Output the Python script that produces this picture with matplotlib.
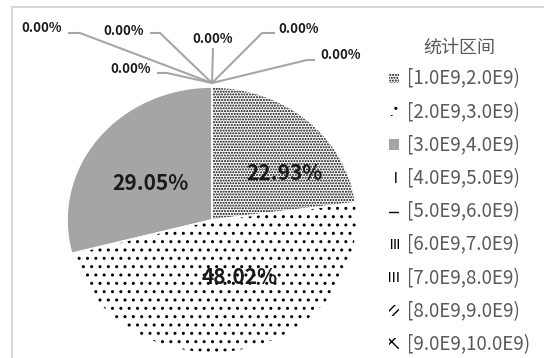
import numpy as np
import matplotlib.pyplot as plt
from matplotlib.patches import Rectangle

plt.rcParams['font.family'] = ['Noto Sans CJK SC', 'DejaVu Sans']
plt.rcParams['hatch.linewidth'] = 1.0

# data
bins = ['[1.0E9,2.0E9)', '[2.0E9,3.0E9)', '[3.0E9,4.0E9)', '[4.0E9,5.0E9)',
        '[5.0E9,6.0E9)', '[6.0E9,7.0E9)', '[7.0E9,8.0E9)', '[8.0E9,9.0E9)',
        '[9.0E9,10.0E9)']
share = [22.93, 48.02, 29.05, 0.0, 0.0, 0.0, 0.0, 0.0, 0.0]
legend_title = '统计区间'

# styles per slice
faces = ['white', 'white', '#a5a5a5', 'white', 'white', 'white', 'white', 'white', 'white']
hatches = ['......', '..', None, '||', '--', '|||||', '||||', '////', 'xx']

# layout (pixels)
W, H = 544, 358
CX, CY, RX, RY = 212, 220, 145, 133
big_pos = [(284, 174), (240, 278), (150, 184)]
zero_pos = [(42, 28), (124, 31), (213, 39), (299, 29), (341, 55), (131, 69)]
zero_leg = [((68, 33), (80, 33)), ((150, 33), (160, 33)), ((213, 48), (213, 48)),
            ((275, 33), (262, 33)), ((315, 60), (307, 60)), ((157, 73), (167, 73))]


def px(x, y):
    return (x - CX) / RX, (CY - y) / RY


fig = plt.figure(figsize=(W / 100, H / 100), dpi=100)
ax = fig.add_axes([0, 0, 1, 1])

wedges, _ = ax.pie(share, startangle=90, counterclock=False, radius=1)
for w, fc, h in zip(wedges, faces, hatches):
    w.set_facecolor(fc)
    w.set_edgecolor('black')
    w.set_linewidth(0)
    if h:
        w.set_hatch(h)
# white borders between slices
ax.pie(share, startangle=90, counterclock=False, radius=1,
       wedgeprops=dict(fill=False, edgecolor='white', linewidth=1.2))

ax.set_aspect('auto')
ax.set_xlim(-CX / RX, (W - CX) / RX)
ax.set_ylim(-(H - CY) / RY, CY / RY)
ax.axis('off')

# labels of the real slices
for v, p in zip(share[:3], big_pos):
    x, y = px(*p)
    ax.text(x, y, f'{v:.2f}%', ha='center', va='center', fontsize=15,
            fontweight='bold', color='#1a1a1a')

# zero slices: labels with leader lines from the top of the pie
zero_idx = [i for i, v in enumerate(share) if v == 0]
for i, p, (a, b) in zip(zero_idx, zero_pos, zero_leg):
    th = np.deg2rad(wedges[i].theta1)
    x0, y0 = 1.03 * np.cos(th), 1.03 * np.sin(th)
    xa, ya = px(*a)
    xb, yb = px(*b)
    ax.plot([xa, xb, x0], [ya, yb, y0], color='#a6a6a6', lw=1.5,
            solid_capstyle='butt')
    x, y = px(*p)
    ax.text(x, y, f'{share[i]:.2f}%', ha='center', va='center', fontsize=9.5,
            fontweight='bold', color='#1a1a1a')

leg = ax.legend(wedges, bins, title=legend_title, loc='upper left',
                bbox_to_anchor=(380 / W, 1 - 29 / H), bbox_transform=fig.transFigure,
                frameon=False, fontsize=13.5, title_fontsize=13,
                handlelength=0.5, handleheight=0.5, handletextpad=0.45,
                labelspacing=0.65, borderpad=0, labelcolor='#595959')
leg.get_title().set_color('#595959')

# outer chart frame
fig.add_artist(Rectangle((12 / W, -0.1), 1.2, 1.1 - 7 / H, transform=fig.transFigure,
                         fill=False, edgecolor='#d9d9d9', lw=1.5))

fig.savefig('out.png', dpi=100)
